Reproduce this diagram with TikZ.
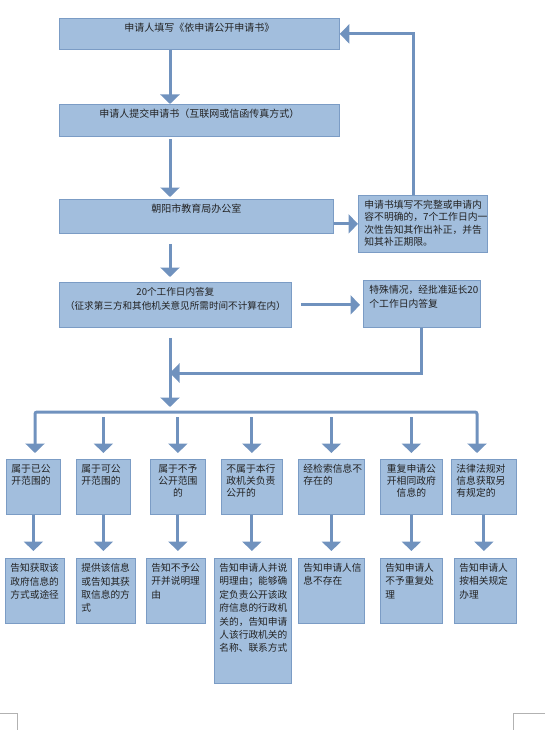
\documentclass[tikz,border=0pt]{standalone}
\usepackage{fontspec}
\newfontfamily\cjk{Noto Sans CJK SC}
\usetikzlibrary{arrows.meta}

\definecolor{boxfill}{HTML}{A2BEDD}
\definecolor{boxline}{HTML}{7B9CC5}
\definecolor{flowc}{HTML}{7092BE}
\definecolor{txtc}{HTML}{222222}

% text block of a box: inner width, inner height, text
\newcommand{\boxtxt}[3]{\parbox[t][#2][t]{#1}{#3}}

\tikzset{
  box/.style={draw=boxline, fill=boxfill, line width=0.8pt, anchor=north west,
    inner xsep=5pt, inner ysep=5pt, text=txtc,
    font=\cjk\fontsize{9.7}{13.4}\selectfont},
  flow/.style={draw=flowc, line width=3pt, ->},
  >={Triangle[width=19pt,length=9.5pt]}
}

\begin{document}
\begin{tikzpicture}[x=1pt,y=-1pt]
\useasboundingbox (0,0) rectangle (545,730);

% main steps
\node[box, font=\cjk\fontsize{10}{13}\selectfont] (B1) at (59,18) {\boxtxt{270pt}{21pt}{\centering 申请人填写《依申请公开申请书》}};
\node[box, font=\cjk\fontsize{10}{13}\selectfont] (B2) at (59,104) {\boxtxt{270pt}{22pt}{\centering 申请人提交申请书（互联网或信函传真方式）}};
\node[box, font=\cjk\fontsize{10}{13}\selectfont] (B3) at (59,199) {\boxtxt{264pt}{24pt}{\centering 朝阳市教育局办公室}};
\node[box, font=\cjk\fontsize{9.8}{12.2}\selectfont, inner xsep=6pt] (Corr) at (358,195)
  {\boxtxt{117pt}{47pt}{\raggedright 申请书填写不完整或申请内\\容不明确的，7个工作日内一\\次性告知其作出补正，并告\\知其补正期限。}};
\node[box, font=\cjk\fontsize{9.6}{14}\selectfont] (B4) at (59,282)
  {\boxtxt{222pt}{35pt}{\centering 20个工作日内答复\\（征求第三方和其他机关意见所需时间不计算在内）}};
\node[box, font=\cjk\fontsize{9.8}{14}\selectfont, inner xsep=6pt] (B5) at (363,280)
  {\boxtxt{105pt}{37pt}{\raggedright 特殊情况，经批准延长20\\个工作日内答复}};

% kinds of request
\node[box, font=\cjk\fontsize{9.8}{12}\selectfont] (R1a) at (6,459) {\boxtxt{44pt}{45pt}{\raggedright 属于已公\\开范围的}};
\node[box, font=\cjk\fontsize{9.8}{12}\selectfont] (R1b) at (76,459) {\boxtxt{44pt}{45pt}{\raggedright 属于可公\\开范围的}};
\node[box, font=\cjk\fontsize{9.8}{12}\selectfont] (R1c) at (150,459) {\boxtxt{45pt}{45pt}{\centering 属于不予\\公开范围\\的}};
\node[box, font=\cjk\fontsize{9.8}{12}\selectfont] (R1d) at (221,459) {\boxtxt{51pt}{45pt}{\raggedright 不属于本行\\政机关负责\\公开的}};
\node[box, font=\cjk\fontsize{9.8}{12}\selectfont] (R1e) at (298,459) {\boxtxt{56pt}{45pt}{\raggedright 经检索信息不\\存在的}};
\node[box, font=\cjk\fontsize{9.8}{12}\selectfont] (R1f) at (380,459) {\boxtxt{52pt}{45pt}{\centering 重复申请公\\开相同政府\\信息的}};
\node[box, font=\cjk\fontsize{9.8}{12}\selectfont] (R1g) at (451,459) {\boxtxt{55pt}{45pt}{\raggedright 法律法规对\\信息获取另\\有规定的}};

% replies
\node[box] (R2a) at (5,558) {\boxtxt{49pt}{55pt}{\raggedright 告知获取该\\政府信息的\\方式或途径}};
\node[box] (R2b) at (76,558) {\boxtxt{49pt}{55pt}{\raggedright 提供该信息\\或告知其获\\取信息的方\\式}};
\node[box] (R2c) at (146,558) {\boxtxt{49pt}{55pt}{\raggedright 告知不予公\\开并说明理\\由}};
\node[box] (R2d) at (214,558) {\boxtxt{67pt}{115pt}{\raggedright 告知申请人并说\\明理由；能够确\\定负责公开该政\\府信息的行政机\\关的，告知申请\\人该行政机关的\\名称、联系方式}};
\node[box] (R2e) at (298,558) {\boxtxt{56pt}{55pt}{\raggedright 告知申请人信\\息不存在}};
\node[box] (R2f) at (380,558) {\boxtxt{52pt}{55pt}{\raggedright 告知申请人\\不予重复处\\理}};
\node[box] (R2g) at (454,558) {\boxtxt{52pt}{55pt}{\raggedright 告知申请人\\按相关规定\\办理}};

\coordinate (spine) at (170,0);
\coordinate (join) at (170,373);
\coordinate (busL) at (35,412);
\coordinate (busR) at (477,412);

% connectors
\draw[flow] (B1.south -| spine) -- (B2.north -| spine);
\draw[flow, shorten <=2pt, shorten >=2pt] (B2.south -| spine) -- (B3.north -| spine);
\draw[flow] (B3.east |- Corr.west) -- (Corr.west);
\draw[flow] ([xshift=-9pt]Corr.north) |- (B1.east);
\draw[flow, shorten <=10pt, shorten >=5pt] (B3.south -| spine) -- (B4.north -| spine);
\draw[flow, shorten <=9pt, shorten >=3pt] (B4.east) -- (B4.east -| B5.west);
\draw[flow] (B5.south) |- (join);
\draw[flow, shorten <=10pt, shorten >=5pt] (B4.south -| spine) -- (spine |- busL);
\draw[flow, <->, rounded corners=2pt, shorten <=6pt, shorten >=6pt]
  (busL |- R1a.north) -- (busL) -- (busR) -- (busR |- R1g.north);
\foreach \n in {b,c,d,e,f}
  \draw[flow, shorten <=5pt, shorten >=6pt] (R1\n.north |- busL) -- (R1\n.north);
\foreach \n in {a,b,c,d,e,f,g}
  \draw[flow, shorten >=7pt] (R1\n.south) -- (R1\n.south |- R2\n.north);

% page corners
\draw[gray!60, line width=0.8pt] (0,713) -- (17,713) -- (17,730);
\draw[gray!60, line width=0.8pt] (513,730) -- (513,713) -- (545,713);
\end{tikzpicture}
\end{document}
